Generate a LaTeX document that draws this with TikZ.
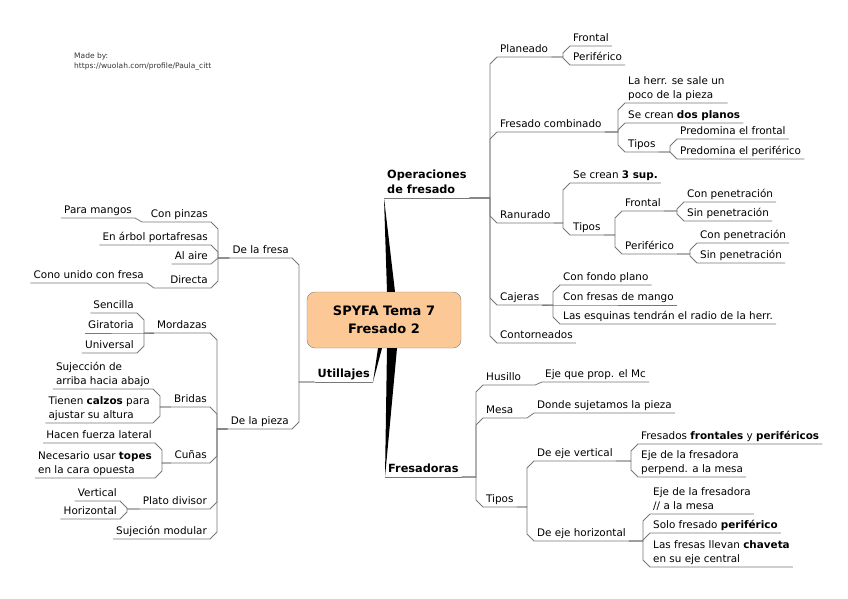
\documentclass[tikz,border=0pt]{standalone}
\usepackage{fontspec}
\setmainfont{DejaVu Sans}
\usetikzlibrary{calc}

\definecolor{peach}{RGB}{252,201,150}
\definecolor{linkgray}{RGB}{120,120,120}

% connector to a topic on the right / on the left
\newcommand\linkR[2]{%
  \draw[link] let \p1=(#1.south east), \p2=(#2.south west),
    \n1={min(7,abs(\y2-\y1))}, \n2={sign(\y2-\y1)} in
    (\p1) -- ({\x2-7},\y1) -- ({\x2-7},{\y2-(\n2)*(\n1)}) -- (\p2) -- (#2.south east);}
\newcommand\linkL[2]{%
  \draw[link] let \p1=(#1.south west), \p2=(#2.south east),
    \n1={min(7,abs(\y2-\y1))}, \n2={sign(\y2-\y1)} in
    (\p1) -- ({\x2+7},\y1) -- ({\x2+7},{\y2-(\n2)*(\n1)}) -- (\p2) -- (#2.south west);}

\begin{document}
\begin{tikzpicture}[x=1pt, y=-1pt,
    topic/.style={inner xsep=3pt, inner ysep=1.5pt, text depth=2.5pt, align=left,
      font=\fontsize{10.4}{14.5}\selectfont},
    topicR/.style={topic, anchor=south west},
    topicL/.style={topic, anchor=south east},
    main/.style={inner xsep=3pt, inner ysep=1.5pt, text depth=3pt, align=left,
      font=\bfseries\fontsize{11.3}{15}\selectfont},
    link/.style={draw=linkgray, line width=0.8pt},
    centre/.style={draw=gray, fill=peach, rounded corners=8pt, align=center,
      minimum width=154pt, minimum height=56pt, font=\bfseries\fontsize{13}{18}\selectfont}]

  \useasboundingbox (0,0) rectangle (848,599);

  % Credit
  \node[anchor=north west, align=left, inner sep=0pt, text=black!80,
    font=\fontsize{7.5}{10}\selectfont] (credit) at (74,53)
    {Made by:\\https://wuolah.com/profile/Paula\_citt};

  % Central topic
  \node[centre] (root) at (384,320) {SPYFA Tema 7\\Fresado 2};

  % Main topics
  \node[main, anchor=south west] (ops) at (384,198) {Operaciones\\de fresado};
  \node[main, anchor=south east] (util) at (373,382) {Utillajes};
  \node[main, anchor=south west] (fres) at (385,477) {Fresadoras};

  \fill (ops.south west) -- ([xshift=3pt]root.north) -- ([xshift=11pt]root.north) -- cycle;
  \fill (util.south east) -- ([xshift=-6pt]root.south) -- ([xshift=-2pt]root.south) -- cycle;
  \fill (fres.south west) -- ([xshift=3pt]root.south) -- ([xshift=13pt]root.south) -- cycle;
  \draw[link] (ops.south west) -- (ops.south east);
  \draw[link] (util.south west) -- (util.south east);
  \draw[link] (fres.south west) -- (fres.south east);

  % Operaciones de fresado
  \node[topicR] (plan) at (497,57) {Planeado};
  \node[topicR] (plfron) at (570,46) {Frontal};
  \node[topicR] (plperi) at (570,65) {Periférico};
  \node[topicR] (fcomb) at (497,132) {Fresado combinado};
  \node[topicR] (herr) at (625,103) {La herr. se sale un\\poco de la pieza};
  \node[topicR] (dos) at (625,123) {Se crean \textbf{dos planos}};
  \node[topicR] (fctip) at (625,152) {Tipos};
  \node[topicR] (predf) at (677,139) {Predomina el frontal};
  \node[topicR] (predp) at (677,159) {Predomina el periférico};
  \node[topicR] (ranur) at (497,223) {Ranurado};
  \node[topicR] (tres) at (570,183) {Se crean \textbf{3 sup.}};
  \node[topicR] (rtip) at (570,235) {Tipos};
  \node[topicR] (rfron) at (622,211) {Frontal};
  \node[topicR] (rfcon) at (684,202) {Con penetración};
  \node[topicR] (rfsin) at (684,221) {Sin penetración};
  \node[topicR] (rperi) at (622,254) {Periférico};
  \node[topicR] (rpcon) at (697,243) {Con penetración};
  \node[topicR] (rpsin) at (697,263) {Sin penetración};
  \node[topicR] (cajer) at (497,305) {Cajeras};
  \node[topicR] (fondo) at (560,285) {Con fondo plano};
  \node[topicR] (mango) at (560,305) {Con fresas de mango};
  \node[topicR] (esqu) at (560,324) {Las esquinas tendrán el radio de la herr.};
  \node[topicR] (conto) at (497,343) {Contorneados};

  \foreach \c in {plan, fcomb, ranur, cajer, conto} {\linkR{ops}{\c}}
  \foreach \c in {plfron, plperi} {\linkR{plan}{\c}}
  \foreach \c in {herr, dos, fctip} {\linkR{fcomb}{\c}}
  \foreach \c in {predf, predp} {\linkR{fctip}{\c}}
  \foreach \c in {tres, rtip} {\linkR{ranur}{\c}}
  \foreach \c in {rfron, rperi} {\linkR{rtip}{\c}}
  \foreach \c in {rfcon, rfsin} {\linkR{rfron}{\c}}
  \foreach \c in {rpcon, rpsin} {\linkR{rperi}{\c}}
  \foreach \c in {fondo, mango, esqu} {\linkR{cajer}{\c}}

  % Fresadoras
  \node[topicR] (husi) at (483,385) {Husillo};
  \node[topicR] (ejemc) at (542,382) {Eje que prop. el Mc};
  \node[topicR] (mesa) at (483,418) {Mesa};
  \node[topicR] (donde) at (534,413) {Donde sujetamos la pieza};
  \node[topicR] (ftip) at (483,507) {Tipos};
  \node[topicR] (vert) at (534,461) {De eje vertical};
  \node[topicR] (frfp) at (638,444) {Fresados \textbf{frontales} y \textbf{periféricos}};
  \node[topicR] (perp) at (638,477) {Eje de la fresadora\\perpend. a la mesa};
  \node[topicR] (horz) at (534,541) {De eje horizontal};
  \node[topicR] (paral) at (650,514) {Eje de la fresadora\\// a la mesa};
  \node[topicR] (solo) at (650,533) {Solo fresado \textbf{periférico}};
  \node[topicR] (chav) at (650,567) {Las fresas llevan \textbf{chaveta}\\en su eje central};

  \foreach \c in {husi, mesa, ftip} {\linkR{fres}{\c}}
  \linkR{husi}{ejemc}
  \linkR{mesa}{donde}
  \foreach \c in {vert, horz} {\linkR{ftip}{\c}}
  \foreach \c in {frfp, perp} {\linkR{vert}{\c}}
  \foreach \c in {paral, solo, chav} {\linkR{horz}{\c}}

  % Utillajes
  \node[topicL] (dfresa) at (292,258) {De la fresa};
  \node[topicL] (pinz) at (211,222) {Con pinzas};
  \node[topicL] (mang) at (135,218) {Para mangos};
  \node[topicL] (arbol) at (211,245) {En árbol portafresas};
  \node[topicL] (aire) at (211,264) {Al aire};
  \node[topicL] (direc) at (211,288) {Directa};
  \node[topicL] (cono) at (147,283) {Cono unido con fresa};
  \node[topicL] (dpieza) at (292,429) {De la pieza};
  \node[topicL] (morda) at (210,333) {Mordazas};
  \node[topicL] (senc) at (137,313) {Sencilla};
  \node[topicL] (gira) at (137,333) {Giratoria};
  \node[topicL] (univ) at (137,353) {Universal};
  \node[topicL] (brida) at (210,407) {Bridas};
  \node[topicL] (sujec) at (153,389) {Sujección de\\arriba hacia abajo};
  \node[topicL] (calz) at (153,423) {Tienen \textbf{calzos} para\\ajustar su altura};
  \node[topicL] (cunas) at (210,463) {Cuñas};
  \node[topicL] (fuerz) at (155,443) {Hacen fuerza lateral};
  \node[topicL] (topes) at (155,478) {Necesario usar \textbf{topes}\\en la cara opuesta};
  \node[topicL] (plato) at (210,509) {Plato divisor};
  \node[topicL] (pvert) at (120,501) {Vertical};
  \node[topicL] (phori) at (120,519) {Horizontal};
  \node[topicL] (modul) at (210,539) {Sujeción modular};

  \foreach \c in {dfresa, dpieza} {\linkL{util}{\c}}
  \foreach \c in {pinz, arbol, aire, direc} {\linkL{dfresa}{\c}}
  \linkL{pinz}{mang}
  \linkL{direc}{cono}
  \foreach \c in {morda, brida, cunas, plato, modul} {\linkL{dpieza}{\c}}
  \foreach \c in {senc, gira, univ} {\linkL{morda}{\c}}
  \foreach \c in {sujec, calz} {\linkL{brida}{\c}}
  \foreach \c in {fuerz, topes} {\linkL{cunas}{\c}}
  \foreach \c in {pvert, phori} {\linkL{plato}{\c}}
\end{tikzpicture}
\end{document}
